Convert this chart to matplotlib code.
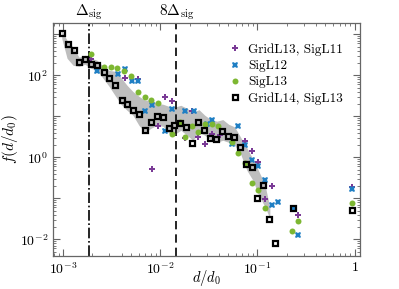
import matplotlib
matplotlib.use('Agg')
import matplotlib.pyplot as plt

plt.rcParams['font.family'] = 'serif'
plt.rcParams['font.serif'] = ['cmr10']
plt.rcParams['mathtext.fontset'] = 'cm'
plt.rcParams['axes.formatter.use_mathtext'] = True

# data
delta_sig = 1.83e-3

grid14_x = [9.70e-4, 1.12e-3, 1.29e-3, 1.47e-3, 1.69e-3, 1.94e-3, 2.24e-3, 2.61e-3, 2.99e-3,
            3.45e-3, 4.00e-3, 4.55e-3, 5.20e-3, 6.00e-3, 6.91e-3, 7.97e-3, 9.18e-3, 1.06e-2,
            1.22e-2, 1.39e-2, 1.61e-2, 1.85e-2, 2.13e-2, 2.46e-2, 2.83e-2, 3.26e-2, 3.74e-2,
            4.30e-2, 4.96e-2, 5.72e-2, 6.59e-2, 7.55e-2, 8.70e-2, 9.97e-2, 0.1145, 0.132,
            0.153, 0.231, 0.94]
grid14_y = [1099, 570, 407, 208, 250, 191, 182, 120, 86, 57, 25, 20, 14, 11.2, 4.69, 7.14,
            10.3, 9.35, 5.18, 6.03, 6.87, 5.48, 2.26, 7.35, 4.74, 2.99, 2.83, 4.43, 3.25,
            3.13, 1.78, 0.70, 0.58, 0.102, 0.207, 0.0308, 0.0080, 0.057, 0.051]

sig13_x = [1.94e-3, 2.64e-3, 3.08e-3, 3.59e-3, 4.24e-3, 5.06e-3, 5.94e-3, 6.96e-3, 8.12e-3,
           9.46e-3, 1.31e-2, 1.59e-2, 1.80e-2, 2.10e-2, 2.46e-2, 2.87e-2, 3.37e-2, 3.95e-2,
           5.42e-2, 6.34e-2, 7.43e-2, 8.70e-2, 0.102, 0.119, 0.229, 0.262, 0.94]
sig13_y = [334, 161, 159, 152, 129, 97, 40, 29, 25.5, 21.6, 3.74, 7.26, 3.13, 5.7, 4.14,
           6.38, 6.38, 5.7, 2.36, 1.27, 0.72, 0.242, 0.157, 0.0593, 0.0159, 0.0279, 0.0768]

sig12_x = [2.24e-3, 3.70e-3, 4.34e-3, 5.08e-3, 5.94e-3, 6.96e-3, 8.15e-3, 1.117e-2, 1.31e-2,
           1.80e-2, 2.20e-2, 3.00e-2, 3.37e-2, 5.42e-2, 6.34e-2, 7.43e-2, 8.70e-2, 0.102,
           0.119, 0.140, 0.163, 0.230, 0.262, 0.94]
sig12_y = [125, 106, 146, 72.6, 72.6, 13.2, 18.5, 4.38, 15.4, 13.5, 13.2, 6.38, 8.0, 2.16,
           5.8, 1.96, 0.85, 0.60, 0.275, 0.0675, 0.0813, 0.057, 0.0127, 0.166]

grid13_x = [1.94e-3, 4.34e-3, 5.94e-3, 8.15e-3, 9.53e-3, 1.117e-2, 1.31e-2, 1.80e-2, 2.10e-2,
            2.46e-2, 2.87e-2, 3.37e-2, 4.11e-2, 7.43e-2, 8.70e-2, 0.102, 0.119, 0.140,
            0.262, 0.94]
grid13_y = [250, 88, 80, 0.53, 5.9, 30, 23.6, 2.9, 13.2, 3.13, 2.1, 3.79, 3.44, 2.45, 1.40,
            0.77, 0.097, 0.2, 0.040, 0.189]

# grey spread around the GridL14 curve
band_x = [9.70e-4, 1.10e-3, 1.27e-3, 1.46e-3, 1.68e-3, 1.94e-3, 2.24e-3, 2.58e-3, 2.97e-3,
          3.42e-3, 3.95e-3, 4.55e-3, 5.24e-3, 6.04e-3, 6.96e-3, 8.03e-3, 9.25e-3, 1.07e-2,
          1.23e-2, 1.41e-2, 1.63e-2, 1.88e-2, 2.17e-2, 2.50e-2, 2.87e-2, 3.31e-2, 3.82e-2,
          4.40e-2, 5.04e-2, 5.82e-2, 6.75e-2, 7.78e-2, 8.97e-2, 0.103, 0.119, 0.134]
band_lo = [798, 260, 175, 166, 185, 148, 132, 84.5, 54, 32.5, 19.6, 14, 10.6, 6.0, 4.07,
           5.1, 6.03, 5.7, 3.85, 3.64, 4.56, 3.44, 2.6, 4.07, 3.44, 2.6, 2.32, 2.6, 2.32,
           1.96, 1.15, 0.48, 0.275, 0.118, 0.063, 0.0325]
band_hi = [1253, 714, 482, 275, 307, 260, 232, 166, 132, 125, 88, 57, 40, 30.7, 24.5, 25.5,
           20.5, 19.6, 17.4, 16.8, 18.5, 15.7, 12.5, 14.5, 10.6, 8.3, 7.6, 8.3, 6.4, 5.5,
           3.0, 1.7, 0.9, 0.46, 0.22, 0.06]

fig = plt.figure(figsize=(3.99, 2.89), dpi=100)
ax = fig.add_axes([0.133, 0.114, 0.769, 0.807])

ax.fill_between(band_x, band_lo, band_hi, color='#a8a8a8', alpha=0.75, lw=0, zorder=1)

ax.axvline(delta_sig, color='k', ls='-.', lw=1.2, zorder=2)
ax.axvline(8 * delta_sig, color='k', ls=(0, (5, 3)), lw=1.2, zorder=2)

ax.plot(grid13_x, grid13_y, 'P', ls='none', color='#7a3a96', ms=4.5, mew=0,
        label='GridL13, SigL11', zorder=3)
ax.plot(sig12_x, sig12_y, 'X', ls='none', color='#1f7fc4', ms=4.5, mew=0,
        label='SigL12', zorder=3)
ax.plot(sig13_x, sig13_y, 'o', ls='none', color='#7db732', ms=4.3, mew=0,
        label='SigL13', zorder=3)
ax.plot(grid14_x, grid14_y, 's', ls='none', mfc='none', mec='k', ms=3.6, mew=1.6,
        label='GridL14, SigL13', zorder=4)

ax.set_xscale('log')
ax.set_yscale('log')
ax.set_xlim(7.9e-4, 1.13)

ax.set_xticks([1e-3, 1e-2, 1e-1, 1])
ax.set_xticklabels([r'$10^{-3}$', r'$10^{-2}$', r'$10^{-1}$', r'$1$'])
ax.set_yticks([1e-3, 1e-2, 1e-1, 1, 10, 100, 1000])
ax.set_yticklabels(['', r'$10^{-2}$', '', r'$10^{0}$', '', r'$10^{2}$', ''])
ax.set_ylim(3.9e-3, 1.9e3)

ax.tick_params(which='both', direction='in', top=True, right=True, color='0.4',
               labelsize=10)
ax.tick_params(which='major', length=5, width=0.8)
ax.tick_params(which='minor', length=2.5, width=0.6)
for s in ax.spines.values():
    s.set_color('0.4')
    s.set_linewidth(0.9)

ax.set_xlabel(r'$d/d_0$', fontsize=10.5, labelpad=-6)
ax.set_ylabel(r'$f(d/d_0)$', fontsize=11, labelpad=0)

ax.text(delta_sig, 1.005, r'$\Delta_{\rm sig}$', transform=ax.get_xaxis_transform(),
        ha='center', va='bottom', fontsize=11)
ax.text(8 * delta_sig, 1.005, r'$8\Delta_{\rm sig}$', transform=ax.get_xaxis_transform(),
        ha='center', va='bottom', fontsize=11)

ax.legend(loc='upper right', frameon=False, fontsize=9.5, handletextpad=0.5,
          labelspacing=0.3, borderaxespad=0.9, handlelength=1.0,
          bbox_to_anchor=(1.0, 0.985))

fig.savefig('out.png', dpi=100)
